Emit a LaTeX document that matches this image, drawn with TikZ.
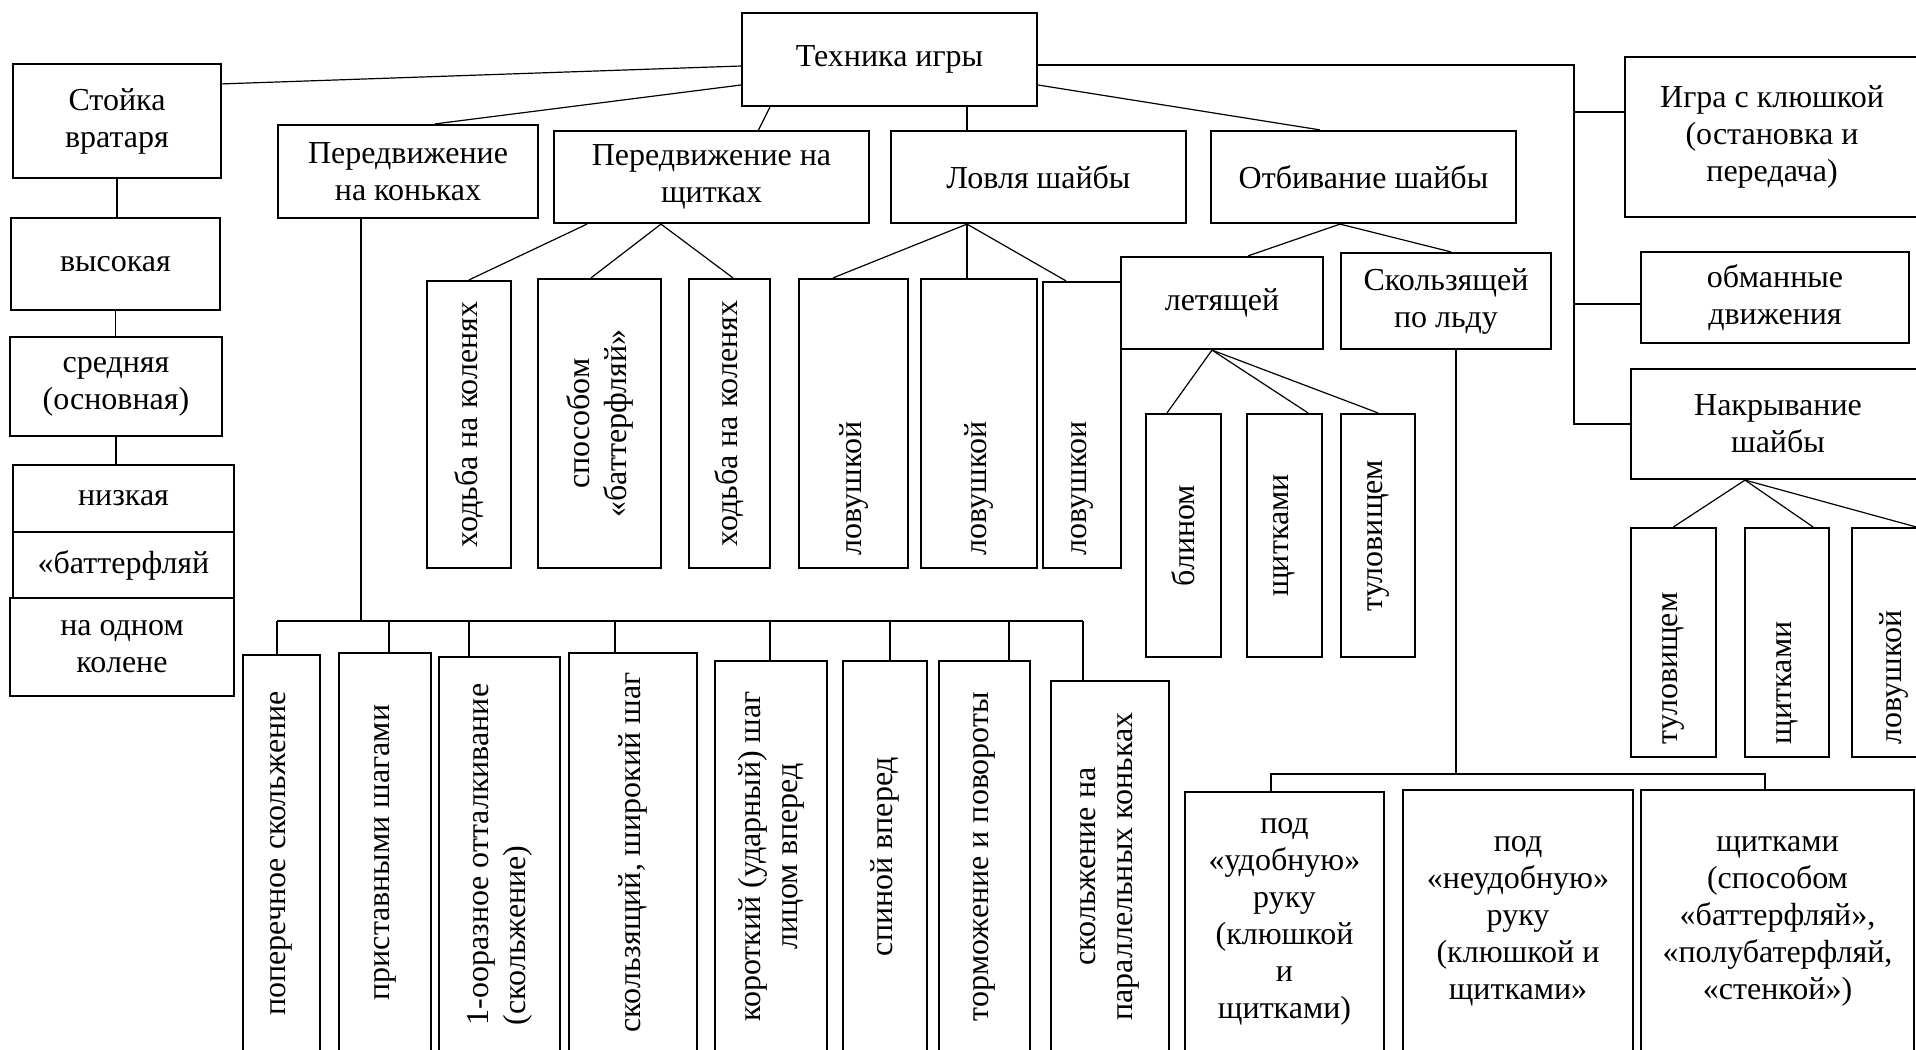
\documentclass[tikz,border=0pt]{standalone}
\usepackage{fontspec}
\setmainfont{Liberation Serif}
\usepackage{tikz}
\usetikzlibrary{calc}

\begin{document}
\begin{tikzpicture}[x=0.5pt,y=-0.5pt, every node/.style={font=\fontsize{16}{18.5}\selectfont}]
    \tikzset{box/.style={draw,line width=1.1pt,inner sep=0pt,align=center}}
    \tikzset{wh/.style 2 args={minimum width=#1*0.5pt,minimum height=#2*0.5pt}}
    \tikzset{vbox/.style 2 args={box,rotate=90,minimum width=#2*0.5pt,minimum height=#1*0.5pt}}
    \tikzset{link/.style={line width=0.6pt}}

    \useasboundingbox (0,0) rectangle (1916,1049);
    \clip (0,0) rectangle (1916,1049);

    % Root
    \node[box,wh={295}{93}] (tech) at (889.5,59.5) {Техника игры};

    % Stance column
    \node[box,wh={208}{114}] (stoyka) at (117,121) {Стойка\\вратаря};
    \node[box,wh={209}{92}] (vysok) at (115.5,264) {высокая};
    \node[box,wh={212}{99}] (sredn) at (116,386.5) {средняя\\(основная)};
    \node[box,wh={221}{67}] (nizk) at (123.5,498.5) {низкая};
    \node[box,wh={221}{66}] (batt) at (123.5,565) {«баттерфляй};
    \node[box,wh={224}{98}] (koleno) at (122,647) {на одном\\колене};

    % Second level
    \node[box,wh={260}{93}] (pnk) at (408,171.5) {Передвижение\\на коньках};
    \node[box,wh={315}{92}] (pnsh) at (711.5,177) {Передвижение на\\щитках};
    \node[box,wh={295}{92}] (lovl) at (1038.5,177) {Ловля шайбы};
    \node[box,wh={305}{92}] (otbiv) at (1363.5,177) {Отбивание шайбы};
    \node[box,wh={294}{160}] (igra) at (1772,137) {Игра с клюшкой\\(остановка и\\передача)};
    \node[box,wh={268}{91}] (obman) at (1775,297.5) {обманные\\движения};
    \node[box,wh={294}{110}] (nakr) at (1778,424) {Накрывание\\шайбы};

    % On the pads
    \node[vbox={84}{287}] (pnshA) at (469,424.5) {ходьба на коленях};
    \node[vbox={123}{289}] (pnshB) at (599.5,423.5) {способом\\«баттерфляй»};
    \node[vbox={81}{289}] (pnshC) at (729.5,423.5) {ходьба на коленях};

    % Catching
    \node[vbox={109}{289},text width=131.5pt,align=left] (lovA) at (853.5,423.5) {ловушкой};
    \node[vbox={116}{289},text width=131.5pt,align=left] (lovB) at (979,423.5) {ловушкой};
    \node[vbox={78}{286},text width=130pt,align=left] (lovC) at (1082,425) {ловушкои};

    % Deflecting
    \node[box,wh={202}{92}] (letya) at (1222,303) {летящей};
    \node[box,wh={210}{96}] (skolz) at (1446,301) {Скользящей\\по льду};
    \node[vbox={75}{243}] (blin) at (1183.5,535.5) {блином};
    \node[vbox={75}{243}] (shchit) at (1284.5,535.5) {щитками};
    \node[vbox={74}{243}] (tulov) at (1378,535.5) {туловищем};
    \node[box,wh={199}{260}] (udob) at (1284.5,922) {под\\«удобную»\\руку\\(клюшкой\\и\\щитками)};
    \node[box,wh={230}{262}] (neudob) at (1518,921) {под\\«неудобную»\\руку\\(клюшкой и\\щитками»};
    \node[box,wh={273}{262}] (shchitB) at (1777.5,921) {щитками\\(способом\\«баттерфляй»,\\«полубатерфляй,\\«стенкой»)};

    % Covering
    \node[vbox={85}{229},text width=101.5pt,align=left] (nkA) at (1673.5,642.5) {туловищем};
    \node[vbox={84}{229},text width=101.5pt,align=left] (nkB) at (1787,642.5) {щитками};
    \node[vbox={84}{229},text width=101.5pt,align=left] (nkC) at (1894,642.5) {ловушкой};

    % Skating
    \node[vbox={77}{397}] (sk1) at (281.5,853.5) {поперечное скольжение};
    \node[vbox={92}{399}] (sk2) at (385,852.5) {приставными шагами};
    \node[vbox={121}{395},align=left] (sk3) at (499.5,854.5) {1-ооразное отталкивание\\(скольжение)};
    \node[vbox={128}{399}] (sk4) at (633,852.5) {скользящий, широкий шаг};
    \node[vbox={112}{391}] (sk5) at (771,856.5) {короткий (ударный) шаг\\лицом вперед};
    \node[vbox={84}{391}] (sk6) at (885,856.5) {спиной вперед};
    \node[vbox={91}{391}] (sk7) at (984.5,856.5) {торможение и повороты};
    \node[vbox={118}{371}] (sk8) at (1110,866.5) {скольжение на\\параллельных коньках};

    % Root links
    \draw[link] ([yshift=-3.25pt]tech.west) -- ([yshift=-10.5pt]stoyka.north east);
    \draw[link] ([yshift=-12.75pt]tech.west) -- ([xshift=13.5pt]pnk.north);
    \draw[link] ([xshift=14.5pt]tech.south west) -- ([xshift=23.5pt]pnsh.north);
    \coordinate (lovtop) at ([xshift=-35.75pt]lovl.north);
    \draw[link] (tech.south -| lovtop) -- (lovtop);
    \draw[link] ([yshift=-12.75pt]tech.east) -- ([xshift=-21.75pt]otbiv.north);

    % Right trunk
    \coordinate (trunk) at (1574,0);
    \draw[link] ([yshift=-2.75pt]tech.east) -| (trunk |- nakr.west) -- (nakr.west);
    \coordinate (igra-in) at ([yshift=12.5pt]igra.west);
    \draw[link] (trunk |- igra-in) -- (igra-in);
    \coordinate (obman-in) at ([yshift=-3.25pt]obman.west);
    \draw[link] (trunk |- obman-in) -- (obman-in);

    % Stance links
    \draw[link] (stoyka.south) -- (stoyka.south |- vysok.north);
    \draw[link] (vysok.south) -- (vysok.south |- sredn.north);
    \draw[link] (sredn.south) -- (sredn.south |- nizk.north);

    % Pads links
    \draw[link] ([xshift=-62.25pt]pnsh.south) -- (pnshA.east);
    \draw[link] ([xshift=-25.25pt]pnsh.south) -- ([xshift=-4.25pt]pnshB.east);
    \draw[link] ([xshift=-25.25pt]pnsh.south) -- ([xshift=1.75pt]pnshC.east);

    % Catching links
    \draw[link] (lovl.south -| lovtop) -- ([xshift=-10.25pt]lovA.east);
    \draw[link] (lovl.south -| lovtop) -- (lovB.east -| lovtop);
    \draw[link] (lovl.south -| lovtop) -- ([xshift=-8pt]lovC.east);

    % Deflecting links
    \draw[link] ([xshift=-11.75pt]otbiv.south) -- ([xshift=13pt]letya.north);
    \draw[link] ([xshift=-11.75pt]otbiv.south) -- ([xshift=2.5pt]skolz.north);
    \draw[link] ([xshift=-5pt]letya.south) -- ([xshift=-8.25pt]blin.east);
    \draw[link] ([xshift=-5pt]letya.south) -- ([xshift=11.75pt]shchit.east);
    \draw[link] ([xshift=-5pt]letya.south) -- (tulov.east);
    \coordinate (rkdown) at ([xshift=5pt]skolz.south);
    \coordinate (rkbus) at (1456,774);
    \draw[link] (rkdown) -- (rkbus);
    \coordinate (udob-in) at ([xshift=-6.75pt]udob.north);
    \coordinate (shchitB-in) at ([xshift=-6.25pt]shchitB.north);
    \draw[link] (udob-in) -- (udob-in |- rkbus) -- (shchitB-in |- rkbus) -- (shchitB-in);

    % Covering links
    \coordinate (nk-out) at ([xshift=-16.5pt]nakr.south);
    \draw[link] (nk-out) -- (nkA.east);
    \draw[link] (nk-out) -- ([xshift=13pt]nkB.east);
    \draw[link] (nk-out) -- ([xshift=11pt]nkC.east);

    % Skating bus
    \coordinate (skbus) at (361,621);
    \draw[link] ([xshift=-23.5pt]pnk.south) -- (skbus);
    \foreach \c/\dx in {sk1/-2.25pt,sk2/2pt,sk3/-15.25pt,sk4/-9pt,sk5/-0.5pt,sk6/2.5pt,sk7/12.25pt,sk8/-13.5pt}{
      \coordinate (\c-in) at ([xshift=\dx]\c.east);
      \draw[link] (\c-in) -- (\c-in |- skbus);
    }
    \draw[link] (sk1-in |- skbus) -- (sk8-in |- skbus);
\end{tikzpicture}
\end{document}
